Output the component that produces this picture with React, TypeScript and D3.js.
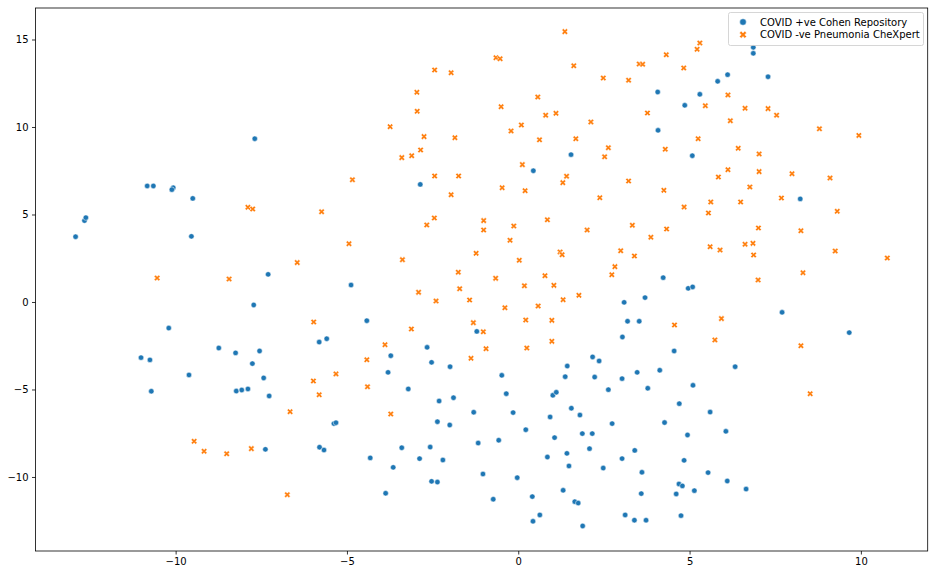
import React, { useEffect, useRef } from 'react';
import * as d3 from 'd3';

// t-SNE embedding: [x, y]
const covidPositive: [number, number][] = [
  [-12.92, 3.73], [-12.66, 4.65], [-12.62, 4.82], [-10.83, 6.63], [-10.65, 6.63],
  [-10.07, 6.53], [-10.11, 6.42], [-9.5, 5.92], [-7.69, 9.33], [-9.54, 3.75],
  [-7.72, -0.17], [-10.2, -1.49], [-8.74, -2.63], [-8.25, -2.91], [-7.55, -2.8],
  [-11.01, -3.18], [-10.75, -3.31], [-7.76, -3.52], [-10.71, -5.1], [-9.61, -4.17],
  [-8.23, -5.09], [-8.07, -5.03], [-7.89, -4.97], [-7.43, -4.34], [-7.27, -5.37],
  [-7.38, -8.42], [-7.3, 1.58], [-2.86, 6.72], [-4.88, 0.97], [-4.42, -1.07],
  [-5.81, -2.29], [-5.59, -2.1], [-3.72, -3.07], [-2.66, -2.59], [-2.53, -3.45],
  [-1.99, -3.7], [-1.21, -1.68], [-5.38, -6.95], [-5.32, -6.9], [-5.8, -8.3],
  [-5.67, -8.46], [-3.8, -4.02], [-3.21, -4.97], [-2.31, -5.66], [-1.89, -5.47],
  [-1.3, -6.3], [-2.36, -6.84], [-2.0, -7.03], [-1.17, -8.06], [-4.32, -8.91],
  [-3.4, -8.33], [-2.57, -8.29], [-2.88, -8.95], [-2.2, -9.03], [-3.65, -9.45],
  [-2.53, -10.25], [-2.36, -10.29], [-3.87, -10.93], [-0.48, -4.19], [-0.35, -5.24],
  [-0.15, -6.32], [0.22, -7.3], [-0.57, -7.9], [-1.03, -9.83], [-0.03, -10.04],
  [-0.73, -11.27], [0.41, -11.12], [0.43, -12.53], [0.63, -12.17], [1.43, -3.66],
  [1.37, -4.27], [2.23, -4.29], [3.03, -4.38], [3.47, -4.02], [4.13, -3.9],
  [5.1, -4.76], [1.01, -5.33], [1.11, -5.16], [2.63, -5.01], [3.78, -4.93],
  [1.55, -6.07], [1.8, -6.46], [0.93, -6.57], [2.74, -6.95], [4.7, -5.81],
  [4.27, -6.89], [4.94, -7.6], [1.06, -7.75], [1.87, -7.52], [2.16, -7.52],
  [0.85, -8.86], [1.42, -8.65], [2.08, -8.38], [3.03, -8.95], [3.4, -8.48],
  [1.48, -9.37], [2.48, -9.49], [3.61, -9.73], [4.84, -9.05], [1.31, -10.76],
  [1.65, -11.41], [1.75, -11.49], [3.59, -10.95], [4.69, -10.4], [4.79, -10.51],
  [4.61, -10.97], [5.14, -10.78], [3.12, -12.17], [3.39, -12.47], [3.73, -12.47],
  [4.75, -12.21], [1.88, -12.8], [4.23, 1.39], [4.96, 0.78], [5.09, 0.86],
  [3.09, -0.02], [3.7, 0.25], [3.19, -1.1], [3.53, -1.1], [3.04, -2.0],
  [4.55, -2.8], [2.17, -3.14], [2.36, -3.37], [4.07, 12.0], [4.86, 11.24],
  [5.3, 11.87], [4.08, 9.81], [5.08, 8.36], [1.54, 8.42], [0.44, 7.5],
  [6.86, 14.55], [6.86, 14.21], [6.11, 12.99], [5.82, 12.61], [7.29, 12.87],
  [8.23, 5.89], [7.7, -0.59], [9.66, -1.75], [6.33, -3.7], [5.6, -6.29],
  [6.06, -7.39], [5.54, -9.75], [6.1, -10.23], [6.65, -10.69]
];

const covidNegative: [number, number][] = [
  [-2.44, 13.26], [-1.96, 13.1], [-2.96, 11.98], [-2.95, 10.9], [-3.74, 10.02],
  [-2.75, 9.45], [-1.85, 9.39], [-2.85, 8.69], [-3.4, 8.25], [-3.11, 8.36],
  [-2.44, 7.2], [-1.74, 7.2], [-4.84, 6.99], [1.36, 15.45], [-0.65, 13.96],
  [-0.53, 13.9], [1.62, 13.5], [2.48, 12.8], [3.22, 12.67], [3.53, 13.6],
  [3.63, 13.58], [4.32, 14.13], [4.83, 13.37], [5.22, 14.44], [5.3, 14.8],
  [0.57, 11.71], [-0.5, 11.16], [0.8, 10.67], [1.1, 10.78], [0.09, 10.11],
  [-0.21, 9.77], [2.12, 10.29], [3.77, 10.8], [0.62, 9.27], [1.68, 9.33],
  [2.63, 8.82], [2.52, 8.3], [4.29, 8.73], [5.25, 9.33], [0.12, 7.85],
  [1.41, 7.18], [1.3, 6.82], [3.22, 6.91], [-0.47, 6.53], [0.2, 6.36],
  [4.25, 6.38], [6.12, 11.83], [5.46, 11.22], [6.62, 11.07], [7.29, 11.05],
  [7.54, 10.67], [6.19, 10.36], [8.79, 9.9], [9.94, 9.52], [6.42, 8.78],
  [7.03, 8.46], [6.12, 7.56], [7.03, 7.45], [5.84, 7.14], [7.99, 7.33],
  [9.1, 7.09], [6.76, 6.57], [5.62, 5.71], [6.49, 5.71], [7.68, 5.94],
  [5.55, 5.09], [9.31, 5.18], [7.01, 4.23], [8.25, 4.07], [5.6, 3.16],
  [5.89, 2.97], [6.62, 3.3], [6.85, 3.35], [6.87, 2.69], [9.25, 2.91],
  [10.77, 2.51], [8.31, 1.67], [7.0, 1.26], [5.93, -0.95], [5.74, -2.17],
  [8.25, -2.5], [8.52, -5.24], [2.38, 5.96], [4.84, 5.43], [-1.01, 4.65],
  [-1.01, 4.11], [-0.13, 4.34], [0.85, 4.7], [2.01, 4.11], [3.33, 4.38],
  [4.33, 4.17], [-0.24, 3.53], [3.87, 3.7], [-1.23, 2.78], [0.03, 2.38],
  [1.22, 2.86], [1.28, 2.7], [2.99, 2.93], [3.39, 2.63], [2.82, 2.02],
  [2.73, 1.56], [-0.66, 1.35], [0.18, 0.93], [0.78, 1.5], [1.04, 0.95],
  [1.77, 0.38], [1.31, 0.13], [-0.39, -0.33], [0.58, -0.23], [0.22, -1.03],
  [0.98, -1.05], [-1.31, -1.18], [-1.02, -1.7], [0.98, -2.25], [-0.94, -2.67],
  [0.25, -2.63], [4.56, -1.31], [-1.96, 6.13], [-5.74, 5.16], [-2.45, 4.8],
  [-2.67, 4.4], [-4.94, 3.33], [-3.38, 2.42], [-6.45, 2.25], [-1.75, 1.7],
  [-1.71, 0.76], [-2.91, 0.55], [-2.4, 0.06], [-1.42, 0.11], [-5.97, -1.14],
  [-3.12, -1.54], [-3.89, -2.44], [-4.42, -3.3], [-1.38, -3.22], [-7.89, 5.41],
  [-7.75, 5.31], [-10.54, 1.37], [-8.44, 1.31], [-9.46, -7.96], [-9.17, -8.53],
  [-8.51, -8.67], [-7.79, -8.38], [-5.98, -4.51], [-5.32, -4.11], [-5.81, -5.3],
  [-4.4, -4.84], [-6.66, -6.27], [-3.72, -6.4], [-6.74, -11.01]
];

const seriesLabels = ['COVID +ve Cohen Repository', 'COVID -ve Pneumonia CheXpert'];
const seriesColors = ['#1f77b4', '#ff7f0e'];
const xTicks = [-10, -5, 0, 5, 10];
const yTicks = [-10, -5, 0, 5, 10, 15];

// filled "X" marker, like matplotlib's
function xMarker(a: number) {
  const w = a / 3;
  const pts = [
    [w, a], [-w, a], [-w, w], [-a, w], [-a, -w], [-w, -w],
    [-w, -a], [w, -a], [w, -w], [a, -w], [a, w], [w, w]
  ];
  const c = Math.SQRT1_2;
  return 'M' + pts.map(([px, py]) => `${(px - py) * c},${(px + py) * c}`).join('L') + 'Z';
}

export default function App() {
  const ref = useRef<SVGSVGElement>(null);

  useEffect(() => {
    const width = 935,
      height = 575;
    const left = 35.5,
      right = 927.7,
      top = 8,
      bottom = 551;

    const svg = d3.select(ref.current);
    svg.selectAll('*').remove();

    const x = d3.scaleLinear().domain([-14.09, 11.95]).range([left, right]);
    const y = d3.scaleLinear().domain([-14.23, 16.8]).range([bottom, top]);

    const font = 'DejaVu Sans, sans-serif';

    const xAxis = svg
      .append('g')
      .attr('transform', `translate(0,${bottom})`)
      .call(d3.axisBottom(x).tickValues(xTicks).tickSize(3.5).tickPadding(3.5));
    const yAxis = svg
      .append('g')
      .attr('transform', `translate(${left},0)`)
      .call(d3.axisLeft(y).tickValues(yTicks).tickSize(3.5).tickPadding(3.5));

    [xAxis, yAxis].forEach(g => {
      g.select('.domain').remove();
      g.selectAll('line').attr('stroke', '#000').attr('stroke-width', 0.8);
      g.selectAll('text').attr('font-family', font).attr('font-size', 10).attr('fill', '#000');
    });

    const plot = svg.append('g');

    plot
      .selectAll('circle')
      .data(covidPositive)
      .enter()
      .append('circle')
      .attr('cx', d => x(d[0]))
      .attr('cy', d => y(d[1]))
      .attr('r', 2.7)
      .attr('fill', seriesColors[0])
      .attr('stroke', '#fff')
      .attr('stroke-width', 0.5);

    const xPath = xMarker(3.2);
    plot
      .selectAll('path.neg')
      .data(covidNegative)
      .enter()
      .append('path')
      .attr('class', 'neg')
      .attr('d', xPath)
      .attr('transform', d => `translate(${x(d[0])},${y(d[1])})`)
      .attr('fill', seriesColors[1])
      .attr('stroke', '#fff')
      .attr('stroke-width', 0.5);

    svg
      .append('rect')
      .attr('x', left)
      .attr('y', top)
      .attr('width', right - left)
      .attr('height', bottom - top)
      .attr('fill', 'none')
      .attr('stroke', '#000')
      .attr('stroke-width', 0.8);

    // legend
    const legend = svg.append('g');
    legend
      .append('rect')
      .attr('x', 728.5)
      .attr('y', 12.5)
      .attr('width', 195)
      .attr('height', 33)
      .attr('rx', 2)
      .attr('fill', '#fff')
      .attr('fill-opacity', 0.8)
      .attr('stroke', '#cccccc')
      .attr('stroke-width', 0.8);

    seriesLabels.forEach((label, i) => {
      const cy = 22 + i * 12.7;
      if (i === 0) {
        legend
          .append('circle')
          .attr('cx', 743)
          .attr('cy', cy)
          .attr('r', 3.3)
          .attr('fill', seriesColors[0])
          .attr('stroke', '#fff')
          .attr('stroke-width', 0.5);
      } else {
        legend
          .append('path')
          .attr('d', xMarker(3.8))
          .attr('transform', `translate(743,${cy})`)
          .attr('fill', seriesColors[1])
          .attr('stroke', '#fff')
          .attr('stroke-width', 0.5);
      }
      legend
        .append('text')
        .attr('x', 760)
        .attr('y', cy + 3.6)
        .attr('font-family', font)
        .attr('font-size', 10)
        .attr('fill', '#000')
        .text(label);
    });

    svg.attr('width', width).attr('height', height);
  }, []);

  return (
    <svg
      ref={ref}
      width={935}
      height={575}
      style={{ position: 'absolute', left: 0, top: 0, background: '#fff' }}
    />
  );
}
